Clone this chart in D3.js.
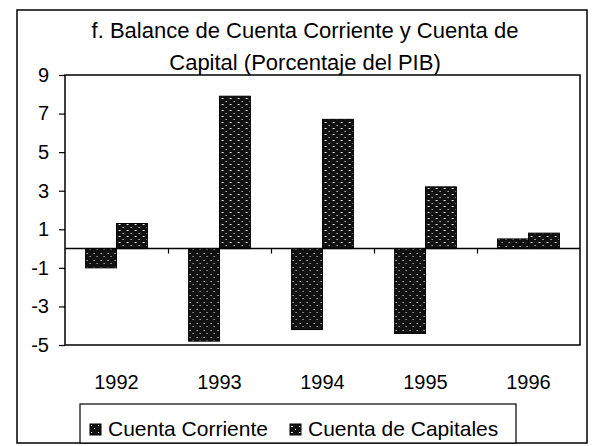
<!DOCTYPE html>
<html>
<head>
<meta charset="utf-8">
<style>
    body { margin: 0; background: #fff; }
    svg { display: block; font-family: 'Liberation Sans', Arial, sans-serif; }
    .title { font-size: 22px; fill: #000; }
    .axis text { font-size: 20px; fill: #000; }
    .axis .domain { display: none; }
    .axis .tick line { stroke: #000; stroke-width: 1.2; }
    .legend-text { font-size: 21px; fill: #000; }
</style>
</head>
<body>
<svg width="596" height="446"></svg>
<script src="https://d3js.org/d3.v7.min.js"></script>
<script>
    let years = ["1992", "1993", "1994", "1995", "1996"]
    let series = ["Cuenta Corriente", "Cuenta de Capitales"]
    let cuentaCorriente = [-1.0, -4.8, -4.2, -4.4, 0.5]
    let cuentaCapitales = [1.3, 7.9, 6.7, 3.2, 0.8]
    let yTicks = [9, 7, 5, 3, 1, -1, -3, -5]

    let svg = d3.select("svg")
    let margin = { top: 75, right: 16, bottom: 101, left: 65 }
    let width = 596, height = 446

    // halftone-like fills for the two series
    let defs = svg.append("defs")
    let p1 = defs.append("pattern").attr("id", "patCC")
        .attr("width", 7).attr("height", 7).attr("patternUnits", "userSpaceOnUse")
    p1.append("rect").attr("width", 7).attr("height", 7).attr("fill", "#111")
    p1.append("rect").attr("x", 1).attr("y", 1).attr("width", 1).attr("height", 1).attr("fill", "#fff")
    p1.append("rect").attr("x", 4).attr("y", 4).attr("width", 1).attr("height", 1).attr("fill", "#ddd")

    let p2 = defs.append("pattern").attr("id", "patCK")
        .attr("width", 8).attr("height", 6).attr("patternUnits", "userSpaceOnUse")
    p2.append("rect").attr("width", 8).attr("height", 6).attr("fill", "#111")
    p2.append("rect").attr("x", 1).attr("y", 2).attr("width", 2).attr("height", 1).attr("fill", "#eee")
    p2.append("rect").attr("x", 5).attr("y", 5).attr("width", 1).attr("height", 1).attr("fill", "#fff")

    let fills = { "Cuenta Corriente": "url(#patCC)", "Cuenta de Capitales": "url(#patCK)" }

    let data = years.map((y, i) => ({
        year: y,
        values: [
            { key: series[0], value: cuentaCorriente[i] },
            { key: series[1], value: cuentaCapitales[i] }
        ]
    }))

    let x0 = d3.scaleBand()
        .domain(years)
        .range([margin.left, width - margin.right])
        .paddingInner(0.4)
        .paddingOuter(0.2)

    let x1 = d3.scaleBand()
        .domain(series)
        .range([0, x0.bandwidth()])

    let y = d3.scaleLinear()
        .domain([-5, 9])
        .range([height - margin.bottom, margin.top])

    // outer chart frame
    svg.append("rect")
        .attr("x", 17).attr("y", 10)
        .attr("width", 570).attr("height", 433)
        .attr("fill", "none").attr("stroke", "#000").attr("stroke-width", 1.5)

    // title
    let title = svg.append("text").attr("class", "title").attr("text-anchor", "middle")
    title.append("tspan").attr("x", 305).attr("y", 38).text("f. Balance de Cuenta Corriente y Cuenta de")
    title.append("tspan").attr("x", 305).attr("y", 70).text("Capital (Porcentaje del PIB)")

    // plot area frame
    svg.append("rect")
        .attr("x", margin.left).attr("y", margin.top)
        .attr("width", width - margin.left - margin.right)
        .attr("height", height - margin.top - margin.bottom)
        .attr("fill", "#fff").attr("stroke", "#000").attr("stroke-width", 1.5)

    // y axis
    svg.append("g")
        .attr("class", "y axis")
        .attr("transform", "translate(" + margin.left + ",0)")
        .call(d3.axisLeft(y).tickValues(yTicks).tickSize(6).tickPadding(10).tickFormat(d => String(d)))

    // bars
    let groups = svg.append("g").selectAll("g")
        .data(data)
        .join("g")
        .attr("transform", d => "translate(" + x0(d.year) + ",0)")

    groups.selectAll("rect")
        .data(d => d.values)
        .join("rect")
        .attr("x", d => x1(d.key))
        .attr("width", x1.bandwidth())
        .attr("y", d => y(Math.max(0, d.value)))
        .attr("height", d => Math.abs(y(d.value) - y(0)))
        .attr("fill", d => fills[d.key])
        .attr("stroke", "#000")
        .attr("stroke-width", 1)

    // category axis on the zero line, ticks between categories
    let xIdx = d3.scaleLinear().domain([0, years.length]).range([margin.left, width - margin.right])
    svg.append("g")
        .attr("class", "x0 axis")
        .attr("transform", "translate(0," + y(0) + ")")
        .call(d3.axisBottom(xIdx).tickValues(d3.range(1, years.length)).tickSize(5).tickFormat(""))
    svg.append("line")
        .attr("x1", margin.left).attr("x2", width - margin.right)
        .attr("y1", y(0)).attr("y2", y(0))
        .attr("stroke", "#000").attr("stroke-width", 1.5)

    // year labels
    svg.append("g")
        .attr("class", "x axis")
        .attr("transform", "translate(0," + (height - margin.bottom) + ")")
        .call(d3.axisBottom(x0).tickSize(0).tickPadding(30))

    // legend
    let legend = svg.append("g")
    legend.append("rect")
        .attr("x", 80).attr("y", 404).attr("width", 436).attr("height", 39)
        .attr("fill", "#fff").attr("stroke", "#000").attr("stroke-width", 1.2)

    let legendX = [90, 290]
    let items = legend.selectAll("g.item")
        .data(series)
        .join("g")
        .attr("class", "item")
        .attr("transform", (d, i) => "translate(" + legendX[i] + ",424)")
    items.append("rect")
        .attr("width", 11).attr("height", 11)
        .attr("fill", d => fills[d])
        .attr("stroke", "#000").attr("stroke-width", 1)
    items.append("text")
        .attr("class", "legend-text")
        .attr("x", 18).attr("y", 12)
        .text(d => d)
</script>
</body>
</html>
